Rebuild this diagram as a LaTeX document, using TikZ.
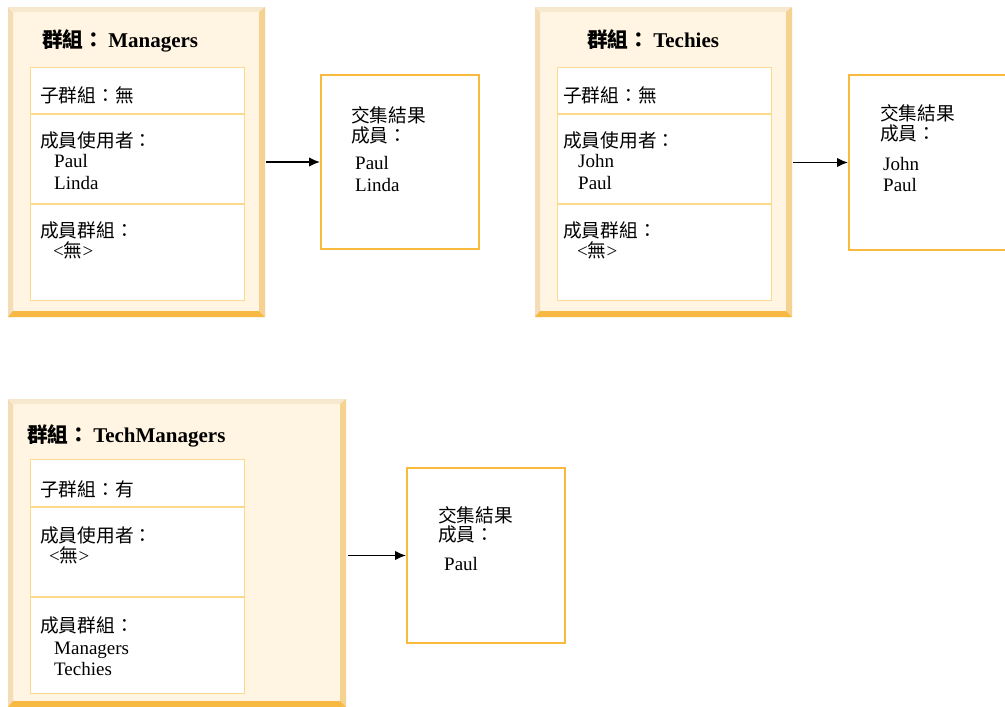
\documentclass[tikz,border=0pt]{standalone}
\usepackage{fontspec}
\setmainfont{Liberation Serif}
\newfontfamily\cjk[Scale=0.985]{Noto Sans CJK TC}
\usetikzlibrary{arrows.meta}
\newcommand\cj[1]{{\cjk #1}}
\definecolor{outerfill}{HTML}{FFF5E2}
\definecolor{bevL}{HTML}{F3DCB6}
\definecolor{bevT}{HTML}{F7E9D0}
\definecolor{bevR}{HTML}{F5D28F}
\definecolor{bevB}{HTML}{F7B941}
\definecolor{innerline}{HTML}{FDD98C}
\definecolor{resline}{HTML}{F8B93C}
\tikzset{
  outerbox/.style={rectangle, fill=outerfill, inner sep=0pt, outer sep=0pt, anchor=north west},
  innerbox/.style={rectangle, fill=white, draw=innerline, line width=1.2pt, inner sep=0pt, anchor=north west},
  divider/.style={draw=innerline, line width=1.2pt},
  resbox/.style={rectangle, fill=white, draw=resline, line width=2pt, inner sep=0pt, anchor=north west},
  txt/.style={anchor=base west, inner sep=0pt, font=\fontsize{19}{21}\selectfont},
  ttl/.style={anchor=base west, inner sep=0pt, font=\fontsize{21}{23}\selectfont\bfseries},
  conn/.style={draw=black, line width=1.4pt, -{Latex[length=11pt,width=9.5pt]}},
}
% name, x0, y0, x1, y1
\newcommand\groupframe[5]{%
  \node[outerbox, minimum width=#4-#2, minimum height=#5-#3] (#1) at (#2,#3) {};
  \fill[bevL] (#2,#3) -- (#2+5,#3+5) -- (#2+5,#5-5) -- (#2,#5) -- cycle;
  \fill[bevT] (#2,#3) -- (#4,#3) -- (#4-6,#3+5) -- (#2+5,#3+5) -- cycle;
  \fill[bevR] (#4,#3) -- (#4,#5) -- (#4-6,#5-6) -- (#4-6,#3+5) -- cycle;
  \fill[bevB] (#2,#5) -- (#4,#5) -- (#4-6,#5-6) -- (#2+5,#5-6) -- cycle;
}
\begin{document}
\begin{tikzpicture}[x=1pt,y=-1pt]
\useasboundingbox (0,0) rectangle (1005,707);
\fill[white] (0,0) rectangle (1005,707);

% ---------- Group Managers ----------
\groupframe{g1}{8}{7}{265}{317}
\node[innerbox, minimum width=214, minimum height=233] (i1) at (30,67) {};
\draw[divider] (30,114) -- (244,114);
\draw[divider] (30,204) -- (244,204);
\node[ttl] (t1) at (42,47) {\cj{群組：}\hspace{4pt}Managers};
\node[txt] (a1) at (40,102) {\cj{子群組：無}};
\node[txt] (b1) at (40,147) {\cj{成員使用者：}};
\node[txt] (c1) at (54,167) {Paul};
\node[txt] (d1) at (54,189) {Linda};
\node[txt] (e1) at (40,237) {\cj{成員群組：}};
\node[txt] (f1) at (53,257) {<\cj{無}>};

\node[resbox, minimum width=158, minimum height=174] (r1) at (320,74) {};
\node[txt] (ra1) at (351,122) {\cj{交集結果}};
\node[txt] (rb1) at (351,142) {\cj{成員：}};
\node[txt] (rc1) at (355,169) {Paul};
\node[txt] (rd1) at (355,191) {Linda};
\draw[conn] ([xshift=1pt]g1.east |- r1.west) -- (r1.west);

% ---------- Group Techies ----------
\groupframe{g2}{535}{7}{792}{317}
\node[innerbox, minimum width=214, minimum height=233] (i2) at (557,67) {};
\draw[divider] (557,114) -- (771,114);
\draw[divider] (557,204) -- (771,204);
\node[ttl] (t2) at (587,47) {\cj{群組：}\hspace{4pt}Techies};
\node[txt] (a2) at (563,102) {\cj{子群組：無}};
\node[txt] (b2) at (563,147) {\cj{成員使用者：}};
\node[txt] (c2) at (578,167) {John};
\node[txt] (d2) at (578,189) {Paul};
\node[txt] (e2) at (563,237) {\cj{成員群組：}};
\node[txt] (f2) at (577,257) {<\cj{無}>};

\node[resbox, minimum width=160, minimum height=175] (r2) at (848,74) {};
\node[txt] (ra2) at (880,120) {\cj{交集結果}};
\node[txt] (rb2) at (880,140) {\cj{成員：}};
\node[txt] (rc2) at (883,170) {John};
\node[txt] (rd2) at (883,191) {Paul};
\draw[conn] ([xshift=1pt]g2.east |- r2.west) -- (r2.west);

% ---------- Group TechManagers ----------
\groupframe{g3}{8}{399}{346}{707}
\node[innerbox, minimum width=214, minimum height=234] (i3) at (30,459) {};
\draw[divider] (30,507) -- (244,507);
\draw[divider] (30,597) -- (244,597);
\node[ttl] (t3) at (27,442) {\cj{群組：}\hspace{4pt}TechManagers};
\node[txt] (a3) at (40,496) {\cj{子群組：有}};
\node[txt] (b3) at (40,542) {\cj{成員使用者：}};
\node[txt] (f3) at (49,562) {<\cj{無}>};
\node[txt] (e3) at (40,632) {\cj{成員群組：}};
\node[txt] (c3) at (54,654) {Managers};
\node[txt] (d3) at (54,675) {Techies};

\node[resbox, minimum width=158, minimum height=175] (r3) at (406,467) {};
\node[txt] (ra3) at (438,522) {\cj{交集結果}};
\node[txt] (rb3) at (438,541) {\cj{成員：}};
\node[txt] (rc3) at (444,570) {Paul};
\draw[conn] ([xshift=2pt]g3.east |- r3.west) -- (r3.west);
\end{tikzpicture}
\end{document}
